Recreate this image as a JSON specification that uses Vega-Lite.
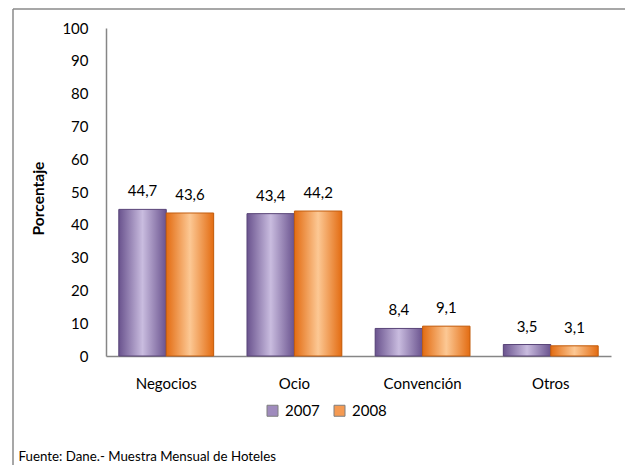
{
  "$schema": "https://vega.github.io/schema/vega-lite/v6.json",
  "width": 612,
  "height": 456,
  "autosize": {"type": "none"},
  "padding": {"left": 13, "top": 9, "right": 0, "bottom": 0},
  "background": "white",
  "config": {
    "font": "Lato",
    "view": {"stroke": "#8a8a8a", "strokeWidth": 1.5, "strokeDash": [612, 1068, 456, 0]},
    "locale": {"number": {"decimal": ",", "thousands": ".", "grouping": [3], "currency": ["", ""]}}
  },
  "data": {
    "values": [
      {"categoria": "Negocios", "anio": "2007", "valor": 44.7},
      {"categoria": "Negocios", "anio": "2008", "valor": 43.6},
      {"categoria": "Ocio", "anio": "2007", "valor": 43.4},
      {"categoria": "Ocio", "anio": "2008", "valor": 44.2},
      {"categoria": "Convención", "anio": "2007", "valor": 8.4},
      {"categoria": "Convención", "anio": "2008", "valor": 9.1},
      {"categoria": "Otros", "anio": "2007", "valor": 3.5},
      {"categoria": "Otros", "anio": "2008", "valor": 3.1}
    ]
  },
  "encoding": {
    "x": {
      "field": "categoria",
      "type": "nominal",
      "sort": ["Negocios", "Ocio", "Convención", "Otros"],
      "scale": {"range": [93, 598], "paddingInner": 0.26, "paddingOuter": 0.1},
      "axis": {
        "offset": -109,
        "domainColor": "#868686",
        "domainWidth": 1.5,
        "ticks": false,
        "labelAngle": 0,
        "labelFontSize": 15,
        "labelColor": "#000000",
        "labelPadding": 20,
        "title": "Fuente: Dane.- Muestra Mensual de Hoteles",
        "titleFontSize": 13.3,
        "titleFontWeight": "normal",
        "titleColor": "#000000",
        "titleAnchor": "start",
        "titleAlign": "left",
        "titleBaseline": "alphabetic",
        "titleX": 5,
        "titleY": 104
      }
    },
    "xOffset": {"field": "anio", "type": "nominal", "sort": ["2007", "2008"]},
    "y": {
      "field": "valor",
      "type": "quantitative",
      "scale": {"domain": [0, 100], "range": [347, 19], "nice": false},
      "axis": {
        "offset": -93,
        "values": [0, 10, 20, 30, 40, 50, 60, 70, 80, 90, 100],
        "grid": false,
        "ticks": false,
        "domainColor": "#868686",
        "domainWidth": 1.5,
        "labelFontSize": 15,
        "labelColor": "#000000",
        "labelPadding": 18,
        "title": "Porcentaje",
        "titleFontSize": 15.5,
        "titleFontWeight": "bold",
        "titleColor": "#000000",
        "titleX": -60,
        "titleY": 189
      }
    }
  },
  "layer": [
    {
      "mark": {"type": "bar"},
      "encoding": {
        "color": {
          "field": "anio",
          "type": "nominal",
          "scale": {"domain": ["2007", "2008"], "range": ["#9f8bbd", "#f59a52"]},
          "legend": {
            "orient": "none",
            "legendX": 252,
            "legendY": 394,
            "direction": "horizontal",
            "title": null,
            "symbolType": "square",
            "symbolSize": 121,
            "symbolStrokeWidth": 1,
            "symbolStrokeColor": "#7f7f7f",
            "labelFontSize": 15,
            "labelColor": "#000000",
            "labelOffset": 5,
            "columnPadding": 12
          }
        }
      }
    },
    {
      "transform": [{"filter": "datum.anio === '2007'"}],
      "mark": {
        "type": "bar",
        "stroke": "#5a4679",
        "strokeWidth": 1,
        "fill": {"gradient": "linear", "x1": 0, "y1": 0, "x2": 1, "y2": 0,
          "stops": [
            {"offset": 0, "color": "#6a538e"},
            {"offset": 0.5, "color": "#c9bcdf"},
            {"offset": 1, "color": "#6a538e"}
          ]}
      }
    },
    {
      "transform": [{"filter": "datum.anio === '2008'"}],
      "mark": {
        "type": "bar",
        "stroke": "#c25e10",
        "strokeWidth": 1,
        "fill": {"gradient": "linear", "x1": 0, "y1": 0, "x2": 1, "y2": 0,
          "stops": [
            {"offset": 0, "color": "#e36c12"},
            {"offset": 0.5, "color": "#fcc894"},
            {"offset": 1, "color": "#e36c12"}
          ]}
      }
    },
    {
      "mark": {"type": "text", "baseline": "alphabetic", "dy": -13, "fontSize": 15, "color": "#000000"},
      "encoding": {
        "text": {"field": "valor", "type": "quantitative", "format": ".1f"}
      }
    }
  ]
}
